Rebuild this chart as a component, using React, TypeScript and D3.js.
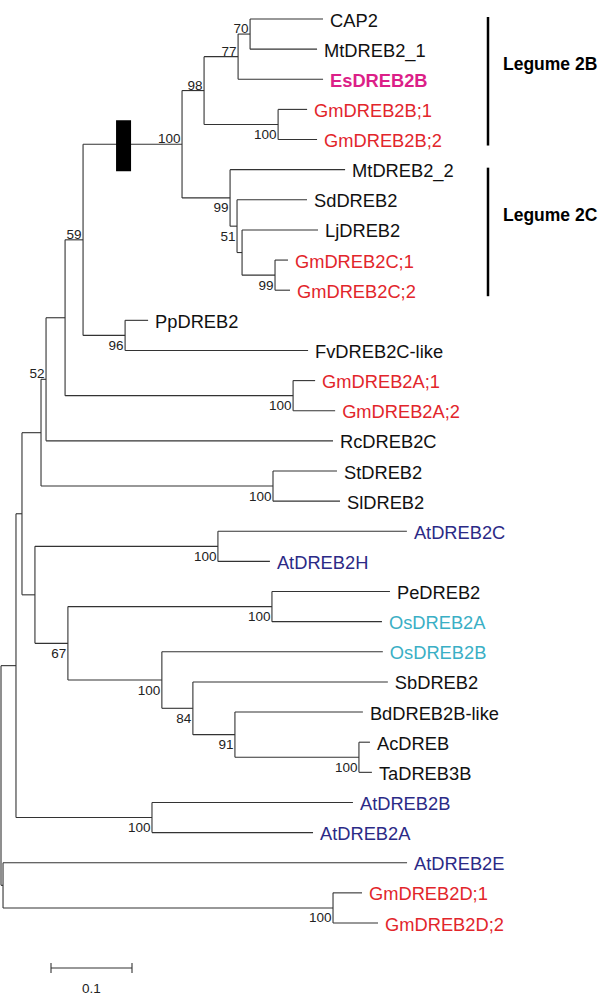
import React from "react";
import * as d3 from "d3";

// Tree topology in preorder: [node, parent, branch length (substitutions/site)]
const branches: [string, string, number][] = [
  ["root", "", 0],
  ["ingroup", "root", 0.0185],
  ["n22", "ingroup", 0.0074],
  ["n41", "n22", 0.0235],
  ["n46", "n41", 0.0062],
  ["n65", "n46", 0.0235],
  ["n83", "n65", 0.0222],
  ["n182", "n83", 0.1222],
  ["n98", "n182", 0.0272],
  ["n77", "n98", 0.042],
  ["n70", "n77", 0.0148],
  ["CAP2", "n70", 0.0901],
  ["MtDREB2_1", "n70", 0.0827],
  ["EsDREB2B", "n77", 0.1049],
  ["nGmB", "n98", 0.0914],
  ["GmDREB2B;1", "nGmB", 0.0358],
  ["GmDREB2B;2", "nGmB", 0.0481],
  ["n99a", "n182", 0.0593],
  ["MtDREB2_2", "n99a", 0.142],
  ["n51", "n99a", 0.0086],
  ["SdDREB2", "n51", 0.0864],
  ["n242", "n51", 0.0062],
  ["LjDREB2", "n242", 0.0938],
  ["n99b", "n242", 0.0407],
  ["GmDREB2C;1", "n99b", 0.016],
  ["GmDREB2C;2", "n99b", 0.0185],
  ["nPp", "n83", 0.0519],
  ["PpDREB2", "nPp", 0.0284],
  ["FvDREB2C-like", "nPp", 0.2259],
  ["nGmA", "n65", 0.2815],
  ["GmDREB2A;1", "nGmA", 0.0272],
  ["GmDREB2A;2", "nGmA", 0.0519],
  ["RcDREB2C", "n46", 0.3543],
  ["nStSl", "n41", 0.2864],
  ["StDREB2", "nStSl", 0.079],
  ["SlDREB2", "nStSl", 0.0827],
  ["n35", "n22", 0.016],
  ["nAtCH", "n35", 0.2259],
  ["AtDREB2C", "nAtCH", 0.2333],
  ["AtDREB2H", "nAtCH", 0.0642],
  ["n67", "n35", 0.0407],
  ["nPeOs", "n67", 0.2519],
  ["PeDREB2", "nPeOs", 0.1457],
  ["OsDREB2A", "nPeOs", 0.1358],
  ["n100b", "n67", 0.116],
  ["OsDREB2B", "n100b", 0.2728],
  ["n84", "n100b", 0.0383],
  ["SbDREB2", "n84", 0.2407],
  ["n91", "n84", 0.0519],
  ["BdDREB2B-like", "n91", 0.158],
  ["nAcTa", "n91", 0.1531],
  ["AcDREB", "nAcTa", 0.0136],
  ["TaDREB3B", "nAcTa", 0.016],
  ["nAtBA", "ingroup", 0.1679],
  ["AtDREB2B", "nAtBA", 0.2481],
  ["AtDREB2A", "nAtBA", 0.1988],
  ["nD", "root", 0.0025],
  ["AtDREB2E", "nD", 0.4988],
  ["nGmD", "nD", 0.4074],
  ["GmDREB2D;1", "nGmD", 0.0358],
  ["GmDREB2D;2", "nGmD", 0.0556],
];

// Bootstrap support: [node, value]
const bootstraps: [string, number][] = [
  ["n70", 70], ["n77", 77], ["n98", 98], ["n182", 100], ["nGmB", 100],
  ["n99a", 99], ["n51", 51], ["n99b", 99], ["nPp", 96], ["n83", 59],
  ["n46", 52], ["nGmA", 100], ["nStSl", 100], ["nAtCH", 100], ["n67", 67],
  ["nPeOs", 100], ["n100b", 100], ["n84", 84], ["n91", 91], ["nAcTa", 100],
  ["nAtBA", 100], ["nGmD", 100],
];

// Taxon groups (label colour)
const soybean = ["GmDREB2B;1", "GmDREB2B;2", "GmDREB2C;1", "GmDREB2C;2", "GmDREB2A;1", "GmDREB2A;2", "GmDREB2D;1", "GmDREB2D;2"];
const arabidopsis = ["AtDREB2C", "AtDREB2H", "AtDREB2B", "AtDREB2A", "AtDREB2E"];
const rice = ["OsDREB2A", "OsDREB2B"];
const highlighted = ["EsDREB2B"];

// Clade brackets: [label, first taxon, last taxon]
const clades: [string, string, string][] = [
  ["Legume 2B", "CAP2", "GmDREB2B;2"],
  ["Legume 2C", "MtDREB2_2", "GmDREB2C;2"],
];

const scaleBarValue = 0.1;

// layout / style
const W = 600, H = 1005;
const PX_PER_UNIT = 810;
const LINE = "#333";
const FONT = "Liberation Sans, Arial, Helvetica, sans-serif";
const labelAbove = new Set(["n70", "n77", "n98", "n182", "n83", "n46"]);

function colorOf(name: string) {
  if (highlighted.includes(name)) return "#dc1f88";
  if (soybean.includes(name)) return "#e2252b";
  if (arabidopsis.includes(name)) return "#2b2a86";
  if (rice.includes(name)) return "#3aafc5";
  return "#111";
}

export default function App() {
  const root = d3
    .stratify<[string, string, number]>()
    .id((d) => d[0])
    .parentId((d) => (d[1] === "" ? null : d[1]))(branches);

  const depth = new Map<string, number>();
  root.each((n: any) => {
    const len = n.data[2];
    depth.set(n.id, n.parent ? depth.get(n.parent.id)! + len : 0);
  });
  const maxDepth = d3.max(Array.from(depth.values()))!;
  const x = d3.scaleLinear().domain([0, maxDepth]).range([1, 1 + maxDepth * PX_PER_UNIT]);

  const leaves = root.leaves();
  const y = d3.scaleLinear().domain([0, leaves.length - 1]).range([19, 923]);
  const pos = new Map<string, { x: number; y: number }>();
  leaves.forEach((l: any, i) => pos.set(l.id, { x: x(depth.get(l.id)!), y: y(i) }));
  root.eachAfter((n: any) => {
    if (n.children) {
      const ys = n.children.map((c: any) => pos.get(c.id)!.y);
      pos.set(n.id, { x: x(depth.get(n.id)!), y: (ys[0] + ys[ys.length - 1]) / 2 });
    }
  });

  const paths: string[] = [];
  root.each((n: any) => {
    const p = pos.get(n.id)!;
    if (n.parent) {
      const pp = pos.get(n.parent.id)!;
      paths.push(`M${pp.x},${p.y}H${p.x}`);
    }
    if (n.children) {
      const ys = n.children.map((c: any) => pos.get(c.id)!.y);
      paths.push(`M${p.x},${d3.min(ys)}V${d3.max(ys)}`);
    }
  });

  const n83 = pos.get("n83")!;
  const n182 = pos.get("n182")!;
  const leafIndex = new Map(leaves.map((l: any, i) => [l.id, i]));

  const sbX0 = 51;
  const sbX1 = sbX0 + (x(scaleBarValue) - x(0));

  return (
    <svg width={W} height={H} style={{ position: "absolute", left: 0, top: 0, background: "#fff" }} fontFamily={FONT}>
      <g fill="none" stroke={LINE} strokeWidth={1.1}>
        {paths.map((d, i) => (
          <path key={i} d={d} />
        ))}
      </g>
      <rect x={n83.x + 33} y={n182.y - 24} width={15} height={51} fill="#000" />
      {leaves.map((l: any) => {
        const p = pos.get(l.id)!;
        const bold = highlighted.includes(l.id);
        return (
          <text key={l.id} x={p.x + 7} y={p.y + 7.5} fontSize={18.3} fill={colorOf(l.id)} fontWeight={bold ? "bold" : "normal"}>
            {l.id}
          </text>
        );
      })}
      {bootstraps.map(([id, v]) => {
        const p = pos.get(id)!;
        const above = labelAbove.has(id);
        return (
          <text key={id} x={p.x - 1.5} y={above ? p.y - 1 : p.y + 14.5} fontSize={13.5} textAnchor="end" fill="#222">
            {v}
          </text>
        );
      })}
      {clades.map(([label, a, b]) => {
        const i0 = leafIndex.get(a)!;
        const i1 = leafIndex.get(b)!;
        return (
          <g key={label}>
            <line x1={488} x2={488} y1={y(i0) - 2} y2={y(i1) + 6} stroke="#000" strokeWidth={2.5} />
            <text x={503} y={y(i0 + 1.5) + 6} fontSize={17.5} fontWeight="bold" fill="#000">
              {label}
            </text>
          </g>
        );
      })}
      <g stroke={LINE} strokeWidth={1.1}>
        <line x1={sbX0} x2={sbX1} y1={968} y2={968} />
        <line x1={sbX0} x2={sbX0} y1={963} y2={973} />
        <line x1={sbX1} x2={sbX1} y1={963} y2={973} />
      </g>
      <text x={(sbX0 + sbX1) / 2} y={993} fontSize={13.5} textAnchor="middle" fill="#222">
        {scaleBarValue}
      </text>
    </svg>
  );
}
